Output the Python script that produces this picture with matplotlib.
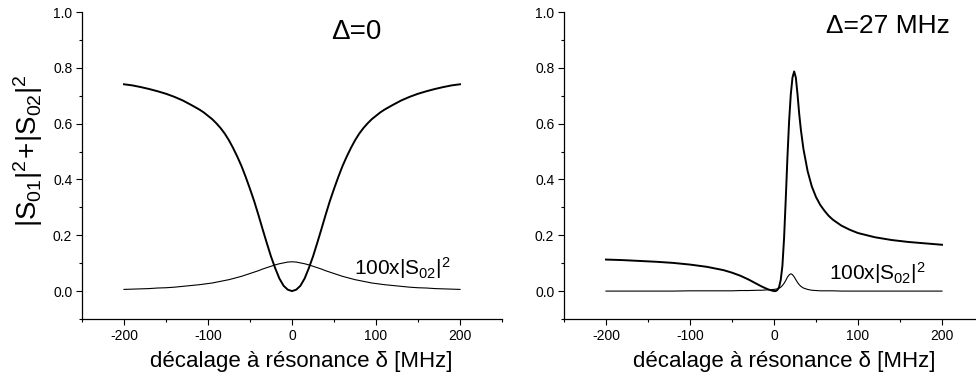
import matplotlib
matplotlib.use("Agg")
import matplotlib.pyplot as plt
from matplotlib.ticker import MultipleLocator, FormatStrFormatter

plt.rcParams["font.family"] = ["Liberation Sans", "DejaVu Sans"]
plt.rcParams["mathtext.fontset"] = "custom"
plt.rcParams["mathtext.rm"] = "Liberation Sans"
plt.rcParams["mathtext.it"] = "Liberation Sans"
plt.rcParams["axes.unicode_minus"] = False

# ---- Delta = 0 : detuning grid and curves ----
delta_left = [-200, -190, -180, -170, -160, -150, -140, -130, -120, -110, -105, -100,
              -95, -90, -85, -80, -75, -70, -65, -60, -55, -50, -45, -40, -35, -30,
              -25, -20, -15, -10, -5, 0, 5, 10, 15, 20, 25, 30, 35, 40, 45, 50, 55,
              60, 65, 70, 75, 80, 85, 90, 95, 100, 105, 110, 120, 130, 140, 150, 160,
              170, 180, 190, 200]
total_left = [0.741, 0.737, 0.731, 0.724, 0.716, 0.707, 0.696, 0.683, 0.667, 0.650,
              0.640, 0.628, 0.616, 0.601, 0.584, 0.564, 0.540, 0.512, 0.481, 0.447,
              0.408, 0.366, 0.322, 0.273, 0.222, 0.172, 0.124, 0.082, 0.045, 0.019,
              0.005, 0.000, 0.005, 0.019, 0.045, 0.082, 0.124, 0.172, 0.222, 0.273,
              0.322, 0.366, 0.408, 0.447, 0.481, 0.512, 0.540, 0.564, 0.584, 0.601,
              0.616, 0.628, 0.640, 0.650, 0.667, 0.683, 0.696, 0.707, 0.716, 0.724,
              0.731, 0.737, 0.741]
s02x100_left = [0.006, 0.007, 0.008, 0.009, 0.011, 0.012, 0.014, 0.017, 0.020, 0.023,
                0.025, 0.027, 0.029, 0.032, 0.035, 0.038, 0.041, 0.045, 0.049, 0.053,
                0.058, 0.063, 0.068, 0.073, 0.079, 0.084, 0.089, 0.094, 0.098, 0.101,
                0.104, 0.105, 0.104, 0.101, 0.098, 0.094, 0.089, 0.084, 0.079, 0.073,
                0.068, 0.063, 0.058, 0.053, 0.049, 0.045, 0.041, 0.038, 0.035, 0.032,
                0.029, 0.027, 0.025, 0.023, 0.020, 0.017, 0.014, 0.012, 0.011, 0.009,
                0.008, 0.007, 0.006]

# ---- Delta = 27 MHz : detuning grid and curves ----
delta_right = [-200, -180, -160, -140, -120, -100, -80, -60, -50, -40, -30, -20, -15,
               -10, -5, 0, 2, 4, 6, 8, 10, 12, 14, 16, 18, 20, 22, 24, 26, 28, 30, 32,
               35, 40, 45, 50, 55, 60, 65, 70, 80, 90, 100, 120, 140, 160, 180, 200]
total_right = [0.113, 0.111, 0.108, 0.105, 0.101, 0.095, 0.087, 0.075, 0.066, 0.055,
               0.041, 0.025, 0.017, 0.010, 0.004, 0.000, 0.000, 0.004, 0.014, 0.040,
               0.090, 0.190, 0.330, 0.480, 0.610, 0.705, 0.765, 0.787, 0.765, 0.705,
               0.635, 0.578, 0.510, 0.430, 0.375, 0.337, 0.309, 0.288, 0.270, 0.256,
               0.235, 0.220, 0.208, 0.193, 0.183, 0.176, 0.171, 0.166]
s02x100_right = [0.000, 0.000, 0.000, 0.000, 0.000, 0.001, 0.001, 0.001, 0.001, 0.002,
                 0.002, 0.003, 0.003, 0.004, 0.005, 0.006, 0.007, 0.008, 0.010, 0.014,
                 0.020, 0.028, 0.038, 0.050, 0.058, 0.062, 0.059, 0.051, 0.041, 0.031,
                 0.023, 0.017, 0.011, 0.006, 0.003, 0.002, 0.001, 0.001, 0.001, 0.001,
                 0.000, 0.000, 0.000, 0.000, 0.000, 0.000, 0.000, 0.000]

panel_titles = ["Δ=0", "Δ=27 MHz"]
xlabel_text = "décalage à résonance δ [MHz]"
ylabel_text = r"$\mathregular{|S_{01}|^2\!+\!|S_{02}|^2}$"
curve_label = r"$\mathregular{100x|S_{02}|^2}$"

W, H = 976, 378
fig = plt.figure(figsize=(W / 100, H / 100), dpi=100)

ax_l = fig.add_axes([82 / W, 1 - 319 / H, 420 / W, 307 / H])
ax_r = fig.add_axes([564 / W, 1 - 319 / H, 420 / W, 307 / H])


def style_axes(ax):
    ax.set_xlim(-250, 250)
    ax.set_ylim(-0.1, 1.0)
    for s in ("top", "right"):
        ax.spines[s].set_visible(False)
    for s in ("left", "bottom"):
        ax.spines[s].set_linewidth(0.9)
    ax.xaxis.set_major_locator(MultipleLocator(100))
    ax.xaxis.set_minor_locator(MultipleLocator(50))
    ax.yaxis.set_major_locator(MultipleLocator(0.2))
    ax.yaxis.set_minor_locator(MultipleLocator(0.1))
    ax.yaxis.set_major_formatter(FormatStrFormatter("%.1f"))
    ax.tick_params(which="major", direction="out", length=4, width=0.8,
                   labelsize=10, pad=3)
    ax.tick_params(which="minor", direction="out", length=2.5, width=0.8)
    ax.patch.set_alpha(0)


style_axes(ax_l)
style_axes(ax_r)

ax_l.plot(delta_left, total_left, color="black", lw=1.4)
ax_l.plot(delta_left, s02x100_left, color="black", lw=0.8)
ax_r.plot(delta_right, total_right, color="black", lw=1.4)
ax_r.plot(delta_right, s02x100_right, color="black", lw=0.8)

# panel annotations
ax_l.text(77, 0.903, panel_titles[0], fontsize=20, ha="center", va="baseline")
ax_r.text(136, 0.925, panel_titles[1], fontsize=19, ha="center", va="baseline")
ax_l.text(74, 0.057, curve_label, fontsize=15, ha="left", va="baseline")
ax_r.text(65, 0.040, curve_label, fontsize=15, ha="left", va="baseline")

# axis titles
fig.text(28 / W, 1 - 151 / H, ylabel_text, fontsize=20, rotation=90,
         ha="center", va="center")
fig.text(301 / W, 1 - 362 / H, xlabel_text, fontsize=16, ha="center", va="center")
fig.text(784 / W, 1 - 362 / H, xlabel_text, fontsize=16, ha="center", va="center")

fig.savefig("out.png", dpi=100)
